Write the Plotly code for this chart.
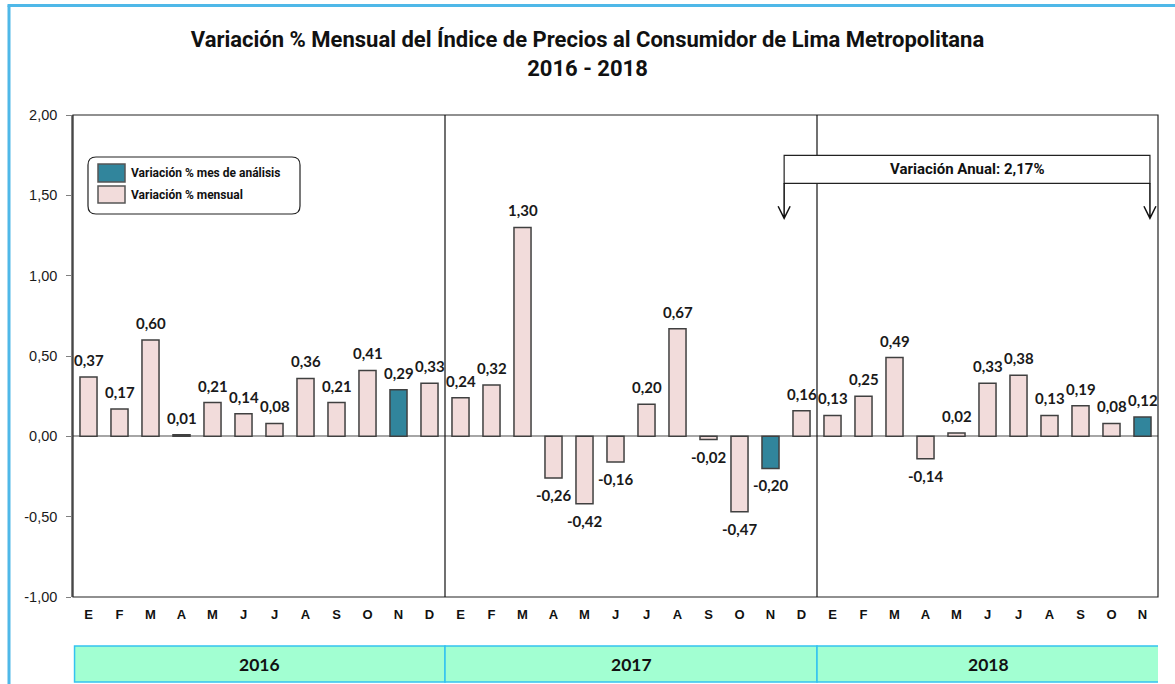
import plotly.graph_objects as go
import re

months = ["E", "F", "M", "A", "M", "J", "J", "A", "S", "O", "N", "D",
          "E", "F", "M", "A", "M", "J", "J", "A", "S", "O", "N", "D",
          "E", "F", "M", "A", "M", "J", "J", "A", "S", "O", "N"]
values = [0.37, 0.17, 0.60, 0.01, 0.21, 0.14, 0.08, 0.36, 0.21, 0.41, 0.29, 0.33,
          0.24, 0.32, 1.30, -0.26, -0.42, -0.16, 0.20, 0.67, -0.02, -0.47, -0.20, 0.16,
          0.13, 0.25, 0.49, -0.14, 0.02, 0.33, 0.38, 0.13, 0.19, 0.08, 0.12]
analysis_idx = [10, 22, 34]
years = ["2016", "2017", "2018"]
year_spans = [(-0.45, 11.5), (11.5, 23.5), (23.5, 34.55)]
y_ticks = [-1.0, -0.5, 0.0, 0.5, 1.0, 1.5, 2.0]
y_ticktext = ["-1,00", "-0,50", "0,00", "0,50", "1,00", "1,50", "2,00"]
annual_text = "Variación Anual: 2,17%"

PINK = "#f2dcdb"
TEAL = "#31859c"
OUTL = "#404040"
NARROW = "Liberation Sans Narrow, Arial Narrow, Roboto, Liberation Sans"

x = list(range(len(values)))
colors = [TEAL if i in analysis_idx else PINK for i in x]

fig = go.Figure()
fig.add_trace(go.Bar(
    x=x, y=values, width=0.55,
    marker=dict(color=colors, line=dict(color=OUTL, width=1.5)),
    showlegend=False, hoverinfo="x+y",
))

# data labels
for i, v in zip(x, values):
    fig.add_annotation(
        x=i, y=v, text=f"{v:.2f}".replace(".", ","), showarrow=False,
        yanchor="bottom" if v >= 0 else "top", yshift=6 if v >= 0 else -6,
        font=dict(family="Lato", size=15, color="#1a1a1a", weight="bold"),
    )

# pixel helpers (plot area spans x 73..1158, y 115..597)
def px_to_paper_x(p):
    return (p - 73) / 1085
def px_to_paper_y(p):
    return (597 - p) / 482

shapes = []
# plot frame
shapes.append(dict(type="rect", xref="paper", yref="paper", x0=0, x1=1, y0=0, y1=1,
                   line=dict(color="#222222", width=1.2), layer="above"))
# year separators
for xs in (11.5, 23.5):
    shapes.append(dict(type="line", xref="x", yref="y", x0=xs, x1=xs, y0=-1, y1=2,
                       line=dict(color="#111111", width=1.2)))
# outer blue frame (left and top edges visible)
shapes.append(dict(type="line", xref="paper", yref="paper",
                   x0=px_to_paper_x(9), x1=px_to_paper_x(9),
                   y0=px_to_paper_y(690), y1=px_to_paper_y(5.5),
                   line=dict(color="#4fb8e8", width=3)))
shapes.append(dict(type="line", xref="paper", yref="paper",
                   x0=px_to_paper_x(7.5), x1=px_to_paper_x(1180),
                   y0=px_to_paper_y(5.5), y1=px_to_paper_y(5.5),
                   line=dict(color="#4fb8e8", width=3)))
# year bands
for (a, b), yr in zip(year_spans, years):
    shapes.append(dict(type="rect", xref="x", yref="paper", x0=a, x1=b,
                       y0=px_to_paper_y(682), y1=px_to_paper_y(646),
                       fillcolor="#a2ffd2", line=dict(color="#33c3f0", width=1.5)))
    fig.add_annotation(x=(a + b) / 2, y=px_to_paper_y(664), xref="x", yref="paper", text=yr,
                       yanchor="middle",
                       showarrow=False, font=dict(family="Lato", size=17.5, color="#111111", weight="bold"))

# legend (custom, rounded box)
lx0, lx1, ly0, ly1 = 88, 300, 157, 214
r = 8
path = (f"M{lx0 + r},{ly0} L{lx1 - r},{ly0} Q{lx1},{ly0} {lx1},{ly0 + r} "
        f"L{lx1},{ly1 - r} Q{lx1},{ly1} {lx1 - r},{ly1} L{lx0 + r},{ly1} "
        f"Q{lx0},{ly1} {lx0},{ly1 - r} L{lx0},{ly0 + r} Q{lx0},{ly0} {lx0 + r},{ly0} Z")
def conv(m):
    px, py = float(m.group(1)), float(m.group(2))
    return f"{px_to_paper_x(px):.5f},{px_to_paper_y(py):.5f}"
paper_path = re.sub(r"(-?\d+\.?\d*),(-?\d+\.?\d*)", conv, path)
shapes.append(dict(type="path", xref="paper", yref="paper", path=paper_path,
                   fillcolor="white", line=dict(color="#222222", width=1.2)))
legend_items = [("Variación % mes de análisis", TEAL, 164, 182),
                ("Variación % mensual", PINK, 186, 203)]
for label, col, y0, y1 in legend_items:
    shapes.append(dict(type="rect", xref="paper", yref="paper",
                       x0=px_to_paper_x(98), x1=px_to_paper_x(125),
                       y0=px_to_paper_y(y1), y1=px_to_paper_y(y0),
                       fillcolor=col, line=dict(color="#555555", width=1.5)))
    fig.add_annotation(xref="paper", yref="paper", x=px_to_paper_x(129),
                       y=px_to_paper_y((y0 + y1) / 2), xanchor="left", yanchor="middle",
                       text=label, showarrow=False,
                       font=dict(family=NARROW, size=12, color="#111111", weight="bold"))

# annual variation box
bx0, bx1, by0, by1 = 22.44, 34.24, 1.575, 1.749
shapes.append(dict(type="rect", xref="x", yref="y", x0=bx0, x1=bx1, y0=by0, y1=by1,
                   fillcolor="white", line=dict(color="#222222", width=1.2), layer="above"))
fig.add_annotation(x=(bx0 + bx1) / 2, y=(by0 + by1) / 2, xref="x", yref="y",
                   text=annual_text, showarrow=False,
                   font=dict(family=NARROW, size=15, color="#111111", weight="bold"))
for ax in (bx0, bx1):
    shapes.append(dict(type="path", xref="x", yref="y", xsizemode="pixel", ysizemode="pixel",
                       xanchor=ax, yanchor=by0,
                       path="M0,0 L0,-35 M-6,-23 L0,-35 L6,-23",
                       line=dict(color="#111111", width=1.5)))

fig.update_layout(
    width=1175, height=684,
    margin=dict(l=73, r=17, t=115, b=87),
    paper_bgcolor="white", plot_bgcolor="white",
    shapes=shapes,
    title=dict(
        text="Variación % Mensual del Índice de Precios al Consumidor de Lima Metropolitana<br>2016 - 2018",
        x=0.5, xanchor="center", y=0.931, yanchor="top",
        font=dict(family=NARROW, size=22, color="#111111", weight="bold"),
    ),
    xaxis=dict(
        range=[-0.5, len(values) - 0.5], tickmode="array", tickvals=x, ticktext=months,
        showgrid=False, zeroline=False, showline=False, ticks="",
        tickfont=dict(family="Liberation Sans", size=13, color="#111111", weight="bold"),
        ticklabelstandoff=8,
    ),
    yaxis=dict(
        range=[-1, 2], tickmode="array", tickvals=y_ticks, ticktext=y_ticktext,
        showgrid=False,
        zeroline=True, zerolinecolor="#a6a6a6", zerolinewidth=1.5,
        showline=True, linecolor="#808080", linewidth=1.5,
        ticks="outside", ticklen=5, tickcolor="#808080",
        tickfont=dict(family="Liberation Sans", size=14.5, color="#1a1a1a"),
        ticklabelstandoff=6,
    ),
)

fig.write_html("out.html", config={"displayModeBar": False},
               post_script="document.body.style.margin='0';")
